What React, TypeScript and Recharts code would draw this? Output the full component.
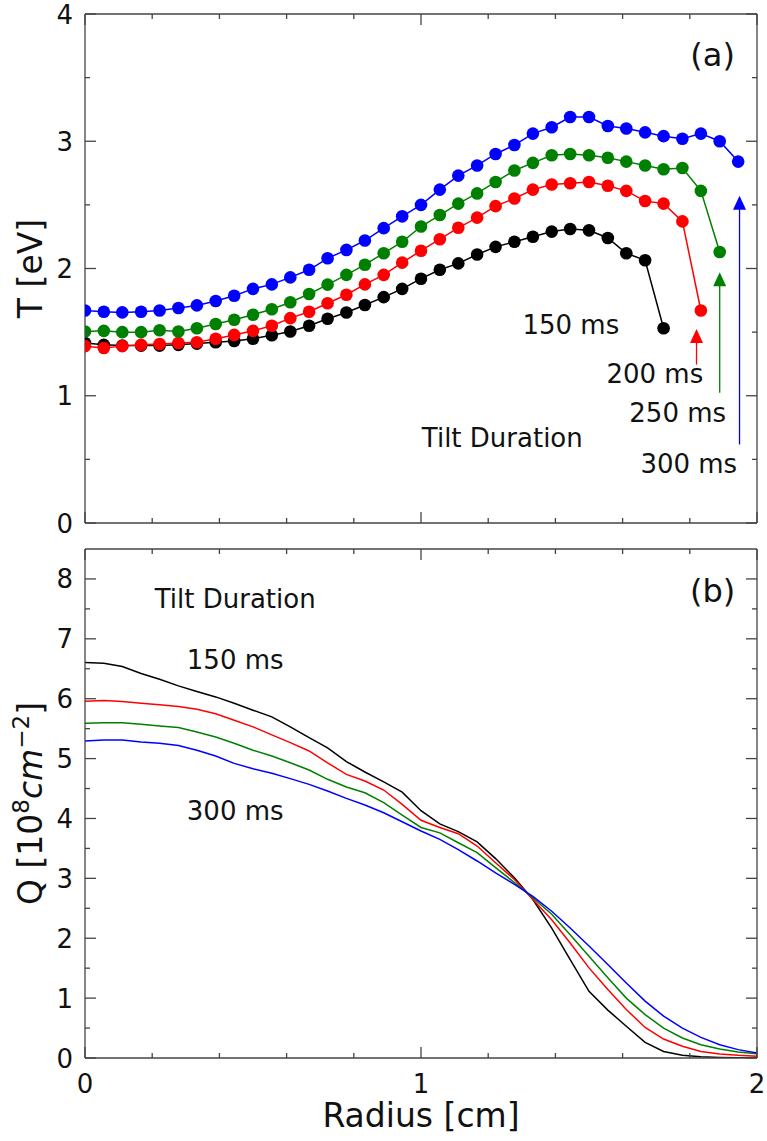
import React from 'react';
import { LineChart, Line, XAxis, YAxis, ReferenceDot, ReferenceLine } from 'recharts';

// radius grid shared by both panels [cm]
const radius = [0, 0.056, 0.111, 0.167, 0.222, 0.278, 0.333, 0.389, 0.444, 0.5, 0.556, 0.611, 0.667, 0.722, 0.778, 0.833, 0.889, 0.944, 1, 1.056, 1.111, 1.167, 1.222, 1.278, 1.333, 1.389, 1.444, 1.5, 1.556, 1.611, 1.667, 1.722, 1.778, 1.833, 1.889, 1.944, 2];

// (a) temperature [eV], one array per tilt duration (shorter tilt -> fewer points)
const temp150 = [1.415, 1.4, 1.394, 1.394, 1.394, 1.4, 1.41, 1.42, 1.43, 1.448, 1.475, 1.505, 1.55, 1.605, 1.654, 1.713, 1.775, 1.84, 1.92, 1.99, 2.04, 2.11, 2.17, 2.21, 2.25, 2.29, 2.31, 2.3, 2.24, 2.12, 2.065, 1.53];
const temp200 = [1.39, 1.375, 1.39, 1.4, 1.407, 1.415, 1.42, 1.448, 1.478, 1.51, 1.55, 1.61, 1.66, 1.727, 1.794, 1.875, 1.95, 2.046, 2.14, 2.23, 2.32, 2.4, 2.49, 2.55, 2.62, 2.66, 2.67, 2.68, 2.65, 2.61, 2.53, 2.51, 2.37, 1.67];
const temp250 = [1.505, 1.51, 1.5, 1.5, 1.515, 1.505, 1.53, 1.564, 1.597, 1.637, 1.68, 1.735, 1.8, 1.873, 1.95, 2.03, 2.12, 2.21, 2.33, 2.42, 2.51, 2.59, 2.68, 2.77, 2.83, 2.89, 2.9, 2.89, 2.87, 2.84, 2.81, 2.78, 2.79, 2.61, 2.13];
const temp300 = [1.67, 1.66, 1.655, 1.66, 1.67, 1.69, 1.71, 1.745, 1.786, 1.84, 1.875, 1.93, 1.99, 2.08, 2.146, 2.22, 2.317, 2.41, 2.5, 2.62, 2.73, 2.81, 2.9, 2.97, 3.06, 3.11, 3.19, 3.19, 3.12, 3.1, 3.07, 3.04, 3.02, 3.06, 3.0, 2.84];

// (b) Q [10^8 cm^-2]
const q150 = [6.605, 6.593, 6.538, 6.42, 6.326, 6.214, 6.12, 6.03, 5.925, 5.808, 5.696, 5.53, 5.35, 5.18, 4.95, 4.776, 4.61, 4.44, 4.13, 3.91, 3.78, 3.61, 3.33, 3.01, 2.647, 2.17, 1.644, 1.114, 0.8, 0.53, 0.26, 0.11, 0.045, 0.02, 0.01, 0.005, 0.0];
const q200 = [5.958, 5.97, 5.953, 5.925, 5.9, 5.87, 5.824, 5.75, 5.64, 5.53, 5.395, 5.267, 5.127, 4.93, 4.737, 4.625, 4.475, 4.236, 3.97, 3.85, 3.745, 3.54, 3.26, 2.98, 2.647, 2.31, 1.92, 1.505, 1.142, 0.81, 0.51, 0.317, 0.195, 0.11, 0.066, 0.044, 0.03];
const q250 = [5.59, 5.6, 5.6, 5.574, 5.545, 5.518, 5.445, 5.36, 5.256, 5.139, 5.044, 4.93, 4.81, 4.654, 4.525, 4.43, 4.264, 4.057, 3.85, 3.76, 3.595, 3.43, 3.18, 2.93, 2.676, 2.4, 2.06, 1.7, 1.34, 1.0, 0.724, 0.5, 0.334, 0.222, 0.15, 0.1, 0.072];
const q300 = [5.295, 5.31, 5.31, 5.278, 5.256, 5.22, 5.139, 5.044, 4.92, 4.83, 4.754, 4.665, 4.57, 4.458, 4.336, 4.224, 4.096, 3.946, 3.79, 3.65, 3.48, 3.29, 3.09, 2.9, 2.7, 2.45, 2.17, 1.87, 1.56, 1.254, 0.95, 0.7, 0.5, 0.345, 0.222, 0.14, 0.084];

const xTicks = [0, 0.2, 0.4, 0.6, 0.8, 1, 1.2, 1.4, 1.6, 1.8, 2];
const xLabels = [0, 1, 2];
const tTicks = [0, 0.5, 1, 1.5, 2, 2.5, 3, 3.5, 4];
const tLabels = [0, 1, 2, 3, 4];
const qTicks = [0, 0.5, 1, 1.5, 2, 2.5, 3, 3.5, 4, 4.5, 5, 5.5, 6, 6.5, 7, 7.5, 8];
const qLabels = [0, 1, 2, 3, 4, 5, 6, 7, 8];

// annotations, in data coordinates (text baseline)
const tempNotes = [
  { x: 1.446, y: 1.488, text: '150 ms' },
  { x: 1.696, y: 1.099, text: '200 ms' },
  { x: 1.764, y: 0.793, text: '250 ms' },
  { x: 1.797, y: 0.392, text: '300 ms' },
  { x: 1.242, y: 0.598, text: 'Tilt Duration' },
];
const tempArrows = [
  { x: 1.82, from: 1.245, to: 1.524, color: '#ff0000' },
  { x: 1.889, from: 1.023, to: 1.97, color: '#008000' },
  { x: 1.948, from: 0.617, to: 2.571, color: '#0000ff' },
];
const qNotes = [
  { x: 0.447, y: 7.51, text: 'Tilt Duration' },
  { x: 0.447, y: 6.5, text: '150 ms' },
  { x: 0.447, y: 3.98, text: '300 ms' },
];

const FONT = 'DejaVu Sans, sans-serif';
const AXIS = '#444';
const COLORS = { k: '#000000', r: '#ff0000', g: '#008000', b: '#0000ff' };

const tempRows = radius.map((r, i) => ({ r, t150: temp150[i], t200: temp200[i], t250: temp250[i], t300: temp300[i] }));
const qRows = radius.map((r, i) => ({ r, q150: q150[i], q200: q200[i], q250: q250[i], q300: q300[i] }));

const Tick = (props: any) => {
  const { x = 0, y = 0, payload, side, labels = [], majors = [] } = props;
  const v = payload ? payload.value : 0;
  const len = majors.includes(v) ? 11 : 5;
  const show = labels.includes(v);
  let l = { x1: x, y1: y, x2: x, y2: y };
  if (side === 'bottom') l.y2 = y - len;
  if (side === 'top') l.y2 = y + len;
  if (side === 'left') l.x2 = x + len;
  if (side === 'right') l.x2 = x - len;
  return (
    <g>
      <line {...l} stroke={AXIS} strokeWidth={1.3} />
      {show && side === 'bottom' && (
        <text x={x} y={y + 34.5} textAnchor="middle" fontSize={26} fontFamily={FONT} fill="#111">{v}</text>
      )}
      {show && side === 'left' && (
        <text x={x - 12} y={y + 9.5} textAnchor="end" fontSize={26} fontFamily={FONT} fill="#111">{v}</text>
      )}
    </g>
  );
};

const TLabel = (props: any) => {
  const { x, y, width, height } = props.viewBox;
  const cx = x + width - 43;
  const cy = y + height / 2;
  return (
    <text x={cx} y={cy} transform={`rotate(-90 ${cx} ${cy})`} textAnchor="middle" fontSize={33} fontFamily={FONT} fill="#111">T [eV]</text>
  );
};

const QLabel = (props: any) => {
  const { x, y, width, height } = props.viewBox;
  const cx = x + width - 43.5;
  const cy = y + height / 2;
  return (
    <text x={cx} y={cy} transform={`rotate(-90 ${cx} ${cy})`} textAnchor="middle" fontSize={33} fontFamily={FONT} fill="#111">
      Q [10<tspan dy={-13} fontSize={23}>8</tspan>
      <tspan dy={13} fontStyle="italic">cm</tspan>
      <tspan dy={-13} fontSize={23}>{'\u22122'}</tspan>
      <tspan dy={13}>]</tspan>
    </text>
  );
};

const RLabel = (props: any) => {
  const { x, y, width } = props.viewBox;
  return (
    <text x={x + width / 2} y={y + 69} textAnchor="middle" fontSize={33} fontFamily={FONT} fill="#111">Radius [cm]</text>
  );
};

const Note = (props: any) => (
  <text x={props.cx} y={props.cy} textAnchor="middle" fontSize={props.size || 26} fontFamily={FONT} fill="#111">{props.text}</text>
);

const Arrow = (props: any) => {
  const { x1, y1, x2, y2, color } = props;
  const tip = Math.min(y1, y2);
  const base = Math.max(y1, y2);
  const x = x1 ?? x2;
  return (
    <g>
      <line x1={x} y1={base} x2={x} y2={tip + 13} stroke={color} strokeWidth={1.3} />
      <polygon points={`${x},${tip} ${x - 6.5},${tip + 14} ${x + 6.5},${tip + 14}`} fill={color} />
    </g>
  );
};

// four axes make the closed frame; each is 1px thick so recharts still draws it
const frameAxes = (yTicks: number[], yMax: number, yLabels: number[], bottomLabels: number[], yLabel: React.ReactElement, xLabel?: React.ReactElement) => [
  <XAxis
    key="xb"
    dataKey="r"
    type="number"
    domain={[0, 2]}
    ticks={xTicks}
    interval={0}
    allowDataOverflow
    height={1}
    tickSize={0}
    tickMargin={0}
    tickLine={false}
    axisLine={{ stroke: AXIS, strokeWidth: 1.3 }}
    tick={(p: any) => <Tick {...p} side="bottom" majors={xLabels} labels={bottomLabels} />}
    label={xLabel}
  />,
  <XAxis
    key="xt"
    xAxisId="top"
    orientation="top"
    dataKey="r"
    type="number"
    domain={[0, 2]}
    ticks={xTicks}
    interval={0}
    allowDataOverflow
    height={1}
    tickSize={0}
    tickMargin={0}
    tickLine={false}
    axisLine={{ stroke: AXIS, strokeWidth: 1.3 }}
    tick={(p: any) => <Tick {...p} side="top" majors={xLabels} />}
  />,
  <YAxis
    key="yl"
    type="number"
    domain={[0, yMax]}
    ticks={yTicks}
    interval={0}
    allowDataOverflow
    width={1}
    tickSize={0}
    tickMargin={0}
    tickLine={false}
    axisLine={{ stroke: AXIS, strokeWidth: 1.3 }}
    tick={(p: any) => <Tick {...p} side="left" majors={yLabels} labels={yLabels} />}
    label={yLabel}
  />,
  <YAxis
    key="yr"
    yAxisId="right"
    orientation="right"
    type="number"
    domain={[0, yMax]}
    ticks={yTicks}
    interval={0}
    allowDataOverflow
    width={1}
    tickSize={0}
    tickMargin={0}
    tickLine={false}
    axisLine={{ stroke: AXIS, strokeWidth: 1.3 }}
    tick={(p: any) => <Tick {...p} side="right" majors={yLabels} />}
  />,
];

const dotted = (c: string) => ({ r: 6.3, fill: c, stroke: c, strokeWidth: 0 });

const App: React.FC = () => (
  <div style={{ position: 'absolute', left: 0, top: 0, width: 767, height: 1141, background: '#fff' }}>
    <div style={{ position: 'absolute', left: 0, top: 0 }}>
      <LineChart width={767} height={550} data={tempRows} margin={{ top: 13, right: 9, bottom: 26, left: 84 }}>
        {frameAxes(tTicks, 4, tLabels, [], <TLabel />)}
        <Line dataKey="t150" stroke={COLORS.k} strokeWidth={1.5} dot={dotted(COLORS.k)} isAnimationActive={false} />
        <Line dataKey="t200" stroke={COLORS.r} strokeWidth={1.5} dot={dotted(COLORS.r)} isAnimationActive={false} />
        <Line dataKey="t250" stroke={COLORS.g} strokeWidth={1.5} dot={dotted(COLORS.g)} isAnimationActive={false} />
        <Line dataKey="t300" stroke={COLORS.b} strokeWidth={1.5} dot={dotted(COLORS.b)} isAnimationActive={false} />
        {tempArrows.map((a) => (
          <ReferenceLine
            key={a.color}
            segment={[{ x: a.x, y: a.from }, { x: a.x, y: a.to }]}
            stroke={a.color}
            shape={(p: any) => <Arrow {...p} color={a.color} />}
          />
        ))}
        {tempNotes.map((n) => (
          <ReferenceDot key={n.text} x={n.x} y={n.y} r={1} shape={(p: any) => <Note {...p} text={n.text} />} />
        ))}
        <ReferenceDot x={1.868} y={3.59} r={1} shape={(p: any) => <Note {...p} text="(a)" size={32} />} />
      </LineChart>
    </div>
    <div style={{ position: 'absolute', left: 0, top: 535 }}>
      <LineChart width={767} height={606} data={qRows} margin={{ top: 13, right: 9, bottom: 82, left: 84 }}>
        {frameAxes(qTicks, 8.5, qLabels, xLabels, <QLabel />, <RLabel />)}
        <Line dataKey="q150" stroke={COLORS.k} strokeWidth={1.5} dot={false} isAnimationActive={false} />
        <Line dataKey="q200" stroke={COLORS.r} strokeWidth={1.5} dot={false} isAnimationActive={false} />
        <Line dataKey="q250" stroke={COLORS.g} strokeWidth={1.5} dot={false} isAnimationActive={false} />
        <Line dataKey="q300" stroke={COLORS.b} strokeWidth={1.5} dot={false} isAnimationActive={false} />
        {qNotes.map((n) => (
          <ReferenceDot key={n.text} x={n.x} y={n.y} r={1} shape={(p: any) => <Note {...p} text={n.text} />} />
        ))}
        <ReferenceDot x={1.868} y={7.615} r={1} shape={(p: any) => <Note {...p} text="(b)" size={32} />} />
      </LineChart>
    </div>
  </div>
);

export default App;
